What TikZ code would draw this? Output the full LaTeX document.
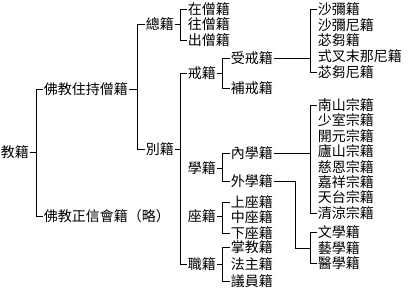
\documentclass[tikz,border=0pt]{standalone}
\usepackage{fontspec}
\newfontfamily\zh{Noto Sans CJK TC}
\usetikzlibrary{calc}

\begin{document}
\begin{tikzpicture}[x=1pt,y=-1pt,line width=0.9pt,
  txt/.style={anchor=west,inner xsep=0.5pt,inner ysep=0pt,font=\zh\fontsize{14}{14}\selectfont}]
  \useasboundingbox (0,0) rectangle (410,290);
  % raiz
  \node[txt] (jiao) at (0,152) {教籍};
  \node[txt] (zhu) at (43,89) {佛教住持僧籍};
  \node[txt] (zheng) at (43,216) {佛教正信會籍（略）};
  \draw (jiao.east) -- ($(jiao.east -| zhu.west)+(-7,0)$);
  \draw (zhu.west) -- ++(-7,0) |- (zheng.west);
  % nivel 2
  \node[txt] (zong) at (145,24) {總籍};
  \node[txt] (bie) at (145,149) {別籍};
  \draw (zhu.east) -- ($(zhu.east -| zong.west)+(-8,0)$);
  \draw (zong.west) -- ++(-8,0) |- (bie.west);
  % 總籍
  \node[txt] (zai) at (187,9) {在僧籍};
  \node[txt] (wang) at (187,24) {往僧籍};
  \node[txt] (chu) at (187,40) {出僧籍};
  \draw (zong.east) -- ($(zong.east -| zai.west)+(-7,0)$);
  \draw (zai.west) -- ++(-7,0) |- (chu.west);
  % 別籍
  \node[txt] (jie) at (187,73) {戒籍};
  \node[txt] (xue) at (187,168) {學籍};
  \node[txt] (zuo) at (187,216) {座籍};
  \node[txt] (zhi) at (187,264) {職籍};
  \draw (bie.east) -- ($(bie.east -| jie.west)+(-7,0)$);
  \draw (jie.west) -- ++(-7,0) |- (zhi.west);
  % 戒籍
  \node[txt] (shou) at (230,58) {受戒籍};
  \node[txt] (bu) at (230,88) {補戒籍};
  \draw (jie.east) -- ($(jie.east -| shou.west)+(-8,0)$);
  \draw (shou.west) -- ++(-8,0) |- (bu.west);
  \node[txt] (shami) at (317,9) {沙彌籍};
  \node[txt] (shamini) at (317,25) {沙彌尼籍};
  \node[txt] (biqu) at (317,40) {苾芻籍};
  \node[txt] (shicha) at (317,56) {式叉末那尼籍};
  \node[txt] (biquni) at (317,72) {苾芻尼籍};
  \draw (shou.east) -- ($(shou.east -| shami.west)+(-7,0)$);
  \draw (shami.west) -- ++(-7,0) |- (biquni.west);
  % 學籍
  \node[txt] (nei) at (230,153) {內學籍};
  \node[txt] (wai) at (230,181) {外學籍};
  \draw (xue.east) -- ($(xue.east -| nei.west)+(-8,0)$);
  \draw (nei.west) -- ++(-8,0) |- (wai.west);
  \foreach \t [count=\i from 0] in {南山,少室,開元,廬山,慈恩,嘉祥,天台,清涼}
    \node[txt] (zong\i) at (317,105+15.43*\i) {\t 宗籍};
  \draw (nei.east) -- ($(nei.east -| zong0.west)+(-7,0)$);
  \draw (zong0.west) -- ++(-7,0) |- (zong7.west);
  \node[txt] (wen) at (317,232) {文學籍};
  \node[txt] (yi) at (317,248) {藝學籍};
  \node[txt] (yixue) at (317,263) {醫學籍};
  \draw (wai.east) -| ($(yi.west)+(-22,0)$) -- ($(yi.west)+(-7,0)$);
  \draw (wen.west) -- ++(-7,0) |- (yixue.west);
  % 座籍
  \node[txt] (shang) at (230,202) {上座籍};
  \node[txt] (zhong) at (230,217) {中座籍};
  \node[txt] (xia) at (230,233) {下座籍};
  \draw (zuo.east) -- ($(zuo.east -| shang.west)+(-8,0)$);
  \draw (shang.west) -- ++(-8,0) |- (xia.west);
  % 職籍
  \node[txt] (zhang) at (230,247) {掌教籍};
  \node[txt] (fa) at (230,264) {法主籍};
  \node[txt] (yiyuan) at (230,281) {議員籍};
  \draw (zhi.east) -- ($(zhi.east -| zhang.west)+(-8,0)$);
  \draw (zhang.west) -- ++(-8,0) |- (yiyuan.west);
\end{tikzpicture}
\end{document}
